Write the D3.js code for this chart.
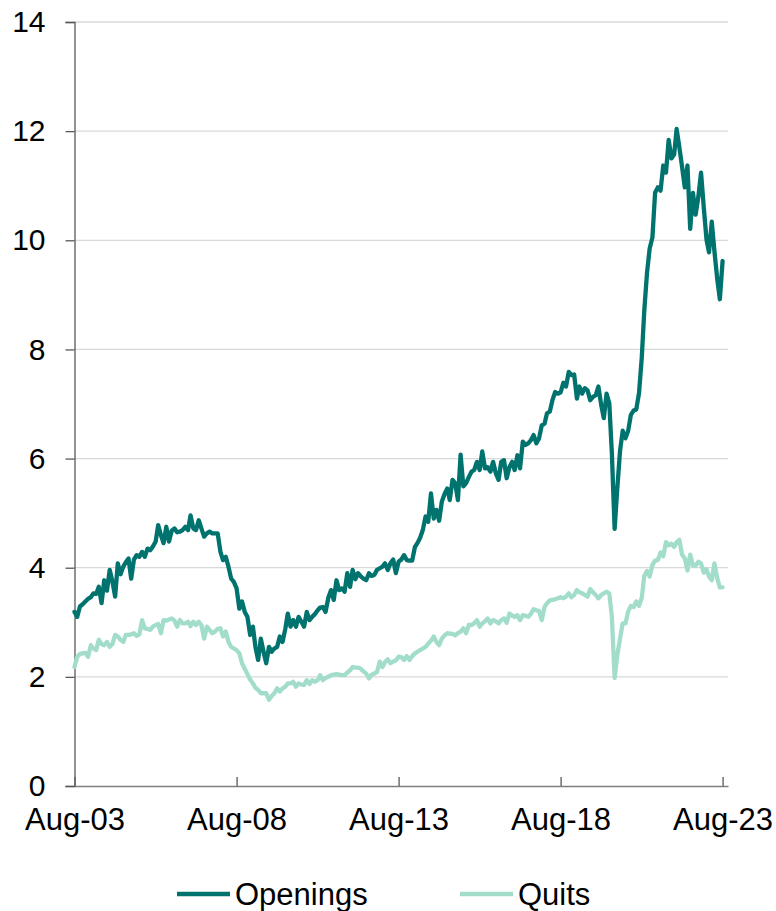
<!DOCTYPE html>
<html>
<head>
<meta charset="utf-8">
<script src="https://cdn.jsdelivr.net/npm/d3@7"></script>
<style>
  body { margin: 0; background: #fff; }
  svg { display: block; font-family: "Liberation Sans", Arial, sans-serif; }
</style>
</head>
<body>
<div id="chart-area"></div>
<script>
// Monthly data, Aug-03 .. Aug-23 (millions)
var firstMonth = new Date(2003, 7, 1);

var openings = [
  3.19, 3.10, 3.29, 3.33, 3.38, 3.43, 3.46, 3.53, 3.52, 3.65,
  3.35, 3.77, 3.58, 3.96, 3.75, 3.47, 4.08, 3.88, 4.02, 4.10,
  4.17, 3.80, 4.15, 4.23, 4.20, 4.29, 4.20, 4.35, 4.32, 4.39,
  4.48, 4.78, 4.60, 4.45, 4.75, 4.48, 4.68, 4.72, 4.65, 4.66,
  4.69, 4.75, 4.69, 4.96, 4.72, 4.69, 4.87, 4.72, 4.57, 4.63,
  4.66, 4.63, 4.63, 4.63, 4.29, 4.14, 4.20, 4.02, 3.80, 3.74,
  3.62, 3.25, 3.38, 3.19, 3.10, 2.77, 2.92, 2.55, 2.31, 2.70,
  2.46, 2.25, 2.55, 2.46, 2.52, 2.55, 2.74, 2.64, 2.88, 3.16,
  2.92, 3.04, 2.92, 3.10, 3.01, 2.92, 3.19, 3.04, 3.10, 3.15,
  3.22, 3.27, 3.28, 3.19, 3.45, 3.59, 3.41, 3.77, 3.59, 3.62,
  3.56, 3.90, 3.65, 3.96, 3.79, 3.90, 3.84, 3.80, 3.77, 3.90,
  3.85, 3.87, 3.96, 3.99, 4.02, 4.08, 3.96, 4.08, 4.15, 3.90,
  4.11, 4.15, 4.23, 4.14, 4.13, 4.13, 4.38, 4.45, 4.55, 4.69,
  4.94, 4.84, 5.36, 4.90, 5.06, 4.86, 5.21, 5.35, 5.45, 5.24,
  5.61, 5.55, 5.24, 6.07, 5.49, 5.55, 5.66, 5.76, 5.79, 5.94,
  5.79, 6.13, 5.82, 5.84, 5.76, 5.94, 5.73, 5.61, 5.94, 5.97,
  5.64, 5.84, 5.94, 5.79, 6.06, 5.82, 6.31, 6.25, 6.28, 6.34,
  6.43, 6.28, 6.37, 6.61, 6.64, 6.83, 6.86, 7.07, 7.22, 7.19,
  7.21, 7.39, 7.32, 7.59, 7.53, 7.54, 7.10, 7.32, 7.19, 7.29,
  7.25, 7.07, 7.13, 7.16, 7.32, 6.99, 6.74, 7.19, 7.01, 6.10,
  4.71, 5.45, 6.14, 6.51, 6.37, 6.51, 6.80, 6.88, 6.90, 7.20,
  7.85, 8.70, 9.40, 9.85, 10.05, 10.87, 10.97, 10.91, 11.37, 11.24,
  11.84, 11.50, 11.57, 12.04, 11.70, 11.35, 10.97, 11.37, 10.21, 10.87,
  10.47, 10.80, 11.24, 10.60, 10.01, 9.78, 10.34, 9.80, 9.30, 8.92,
  9.62
];

var quits = [
  2.18, 2.37, 2.42, 2.43, 2.44, 2.37, 2.58, 2.52, 2.49, 2.68,
  2.60, 2.58, 2.64, 2.55, 2.60, 2.77, 2.74, 2.68, 2.64, 2.77,
  2.77, 2.78, 2.80, 2.75, 2.78, 3.04, 2.89, 2.88, 2.86, 2.92,
  2.95, 2.97, 2.80, 3.04, 3.03, 3.05, 3.07, 3.03, 2.92, 3.04,
  2.98, 2.98, 3.01, 2.93, 3.01, 2.95, 3.01, 2.95, 2.70, 2.92,
  2.86, 2.80, 2.83, 2.88, 2.89, 2.74, 2.83, 2.64, 2.55, 2.52,
  2.49, 2.43, 2.25, 2.15, 2.05, 1.95, 1.88, 1.80, 1.76, 1.70,
  1.70, 1.70, 1.58, 1.65, 1.70, 1.79, 1.73, 1.79, 1.82, 1.88,
  1.88, 1.91, 1.82, 1.88, 1.86, 1.85, 1.94, 1.87, 1.94, 1.91,
  1.94, 2.03, 1.94, 1.98, 2.00, 2.03, 2.04, 2.05, 2.04, 2.03,
  2.03, 2.08, 2.12, 2.18, 2.17, 2.17, 2.15, 2.10, 2.06, 1.97,
  2.04, 2.06, 2.09, 2.28, 2.18, 2.27, 2.32, 2.25, 2.28, 2.30,
  2.37, 2.36, 2.31, 2.38, 2.31, 2.38, 2.43, 2.46, 2.49, 2.52,
  2.55, 2.61, 2.66, 2.74, 2.64, 2.58, 2.70, 2.76, 2.80, 2.79,
  2.79, 2.76, 2.80, 2.83, 2.89, 2.80, 2.95, 2.95, 2.98, 3.04,
  2.92, 2.98, 3.02, 3.07, 2.98, 3.04, 3.02, 2.98, 3.04, 3.07,
  2.99, 3.16, 3.12, 3.10, 3.13, 3.04, 3.13, 3.12, 3.10, 3.16,
  3.24, 3.22, 3.21, 3.04, 3.28, 3.35, 3.40, 3.41, 3.42, 3.44,
  3.46, 3.44, 3.47, 3.53, 3.46, 3.50, 3.59, 3.55, 3.53, 3.50,
  3.47, 3.61, 3.55, 3.50, 3.44, 3.50, 3.53, 3.56, 3.53, 3.10,
  1.98, 2.40, 2.70, 2.98, 2.98, 3.20, 3.30, 3.28, 3.38, 3.30,
  3.45, 3.85, 3.94, 3.84, 4.05, 4.13, 4.14, 4.28, 4.21, 4.47,
  4.41, 4.44, 4.38, 4.47, 4.51, 4.24, 4.17, 3.95, 4.24, 4.04,
  4.04, 4.11, 4.08, 3.91, 3.97, 3.84, 3.77, 4.08, 3.81, 3.64,
  3.64
];

var yTicks = [0, 2, 4, 6, 8, 10, 12, 14];
var xTickYears = [2003, 2008, 2013, 2018, 2023];
var seriesNames = ["Openings", "Quits"];
var seriesColors = ["#00736e", "#a2ddcc"];

var width = 776, height = 911;
var plot = { left: 74.5, right: 728, top: 22, bottom: 786 };

var svg = d3.select("#chart-area").append("svg")
    .attr("width", width)
    .attr("height", height);

var dates = openings.map(function(d, i) { return d3.timeMonth.offset(firstMonth, i); });

// Scales
var x = d3.scaleTime()
    .domain([firstMonth, d3.timeMonth.offset(firstMonth, 242)])
    .range([plot.left, plot.right]);
var y = d3.scaleLinear()
    .domain([0, 14])
    .range([plot.bottom, plot.top]);

// Gridlines
svg.append("g")
    .selectAll("line")
    .data(yTicks.filter(function(d) { return d > 0; }))
    .enter().append("line")
    .attr("x1", plot.left)
    .attr("x2", plot.right)
    .attr("y1", function(d) { return y(d); })
    .attr("y2", function(d) { return y(d); })
    .attr("stroke", "#d9d9d9")
    .attr("stroke-width", 1.3);

// Y axis
var yAxis = svg.append("g")
    .attr("transform", "translate(" + plot.left + ",0)")
    .call(d3.axisLeft(y).tickValues(yTicks).tickSize(9).tickPadding(20));
yAxis.select(".domain").attr("stroke", "#595959").attr("stroke-width", 1.3);
yAxis.selectAll(".tick line").attr("stroke", "#595959").attr("stroke-width", 1.3);
yAxis.selectAll(".tick text")
    .attr("font-size", "30px")
    .attr("font-family", "Liberation Sans, Arial, sans-serif")
    .attr("fill", "#000");

// X axis (ticks point up into the plot)
var xTickDates = xTickYears.map(function(yr) { return new Date(yr, 7, 1); });
var xAxis = svg.append("g")
    .attr("transform", "translate(0," + plot.bottom + ")")
    .call(d3.axisBottom(x).tickValues(xTickDates).tickSizeInner(-9).tickSizeOuter(0)
        .tickPadding(22).tickFormat(d3.timeFormat("%b-%y")));
xAxis.select(".domain").attr("stroke", "#7f7f7f").attr("stroke-width", 1.5);
xAxis.selectAll(".tick line").attr("stroke", "#595959").attr("stroke-width", 1.3);
xAxis.selectAll(".tick text")
    .attr("font-size", "31px")
    .attr("font-family", "Liberation Sans, Arial, sans-serif")
    .attr("fill", "#000");

// Lines
var line = d3.line()
    .x(function(d) { return x(d.date); })
    .y(function(d) { return y(d.value); });

[quits, openings].forEach(function(values) {
    var k = values === openings ? 0 : 1;
    var data = values.map(function(v, i) { return { date: dates[i], value: v }; });
    svg.append("path")
        .attr("d", line(data))
        .attr("fill", "none")
        .attr("stroke", seriesColors[k])
        .attr("stroke-width", 4.3)
        .attr("stroke-linejoin", "round")
        .attr("stroke-linecap", "round");
});

// Legend
var legendX = [177, 460];
var legend = svg.append("g")
    .selectAll("g")
    .data(seriesNames)
    .enter().append("g")
    .attr("transform", function(d, i) { return "translate(" + legendX[i] + ",894)"; });
legend.append("line")
    .attr("x1", 0).attr("x2", 53)
    .attr("stroke", function(d, i) { return seriesColors[i]; })
    .attr("stroke-width", 4.3);
legend.append("text")
    .attr("x", 58)
    .attr("dy", "0.35em")
    .attr("font-size", "31px")
    .attr("fill", "#000")
    .text(function(d) { return d; });
</script>
</body>
</html>
